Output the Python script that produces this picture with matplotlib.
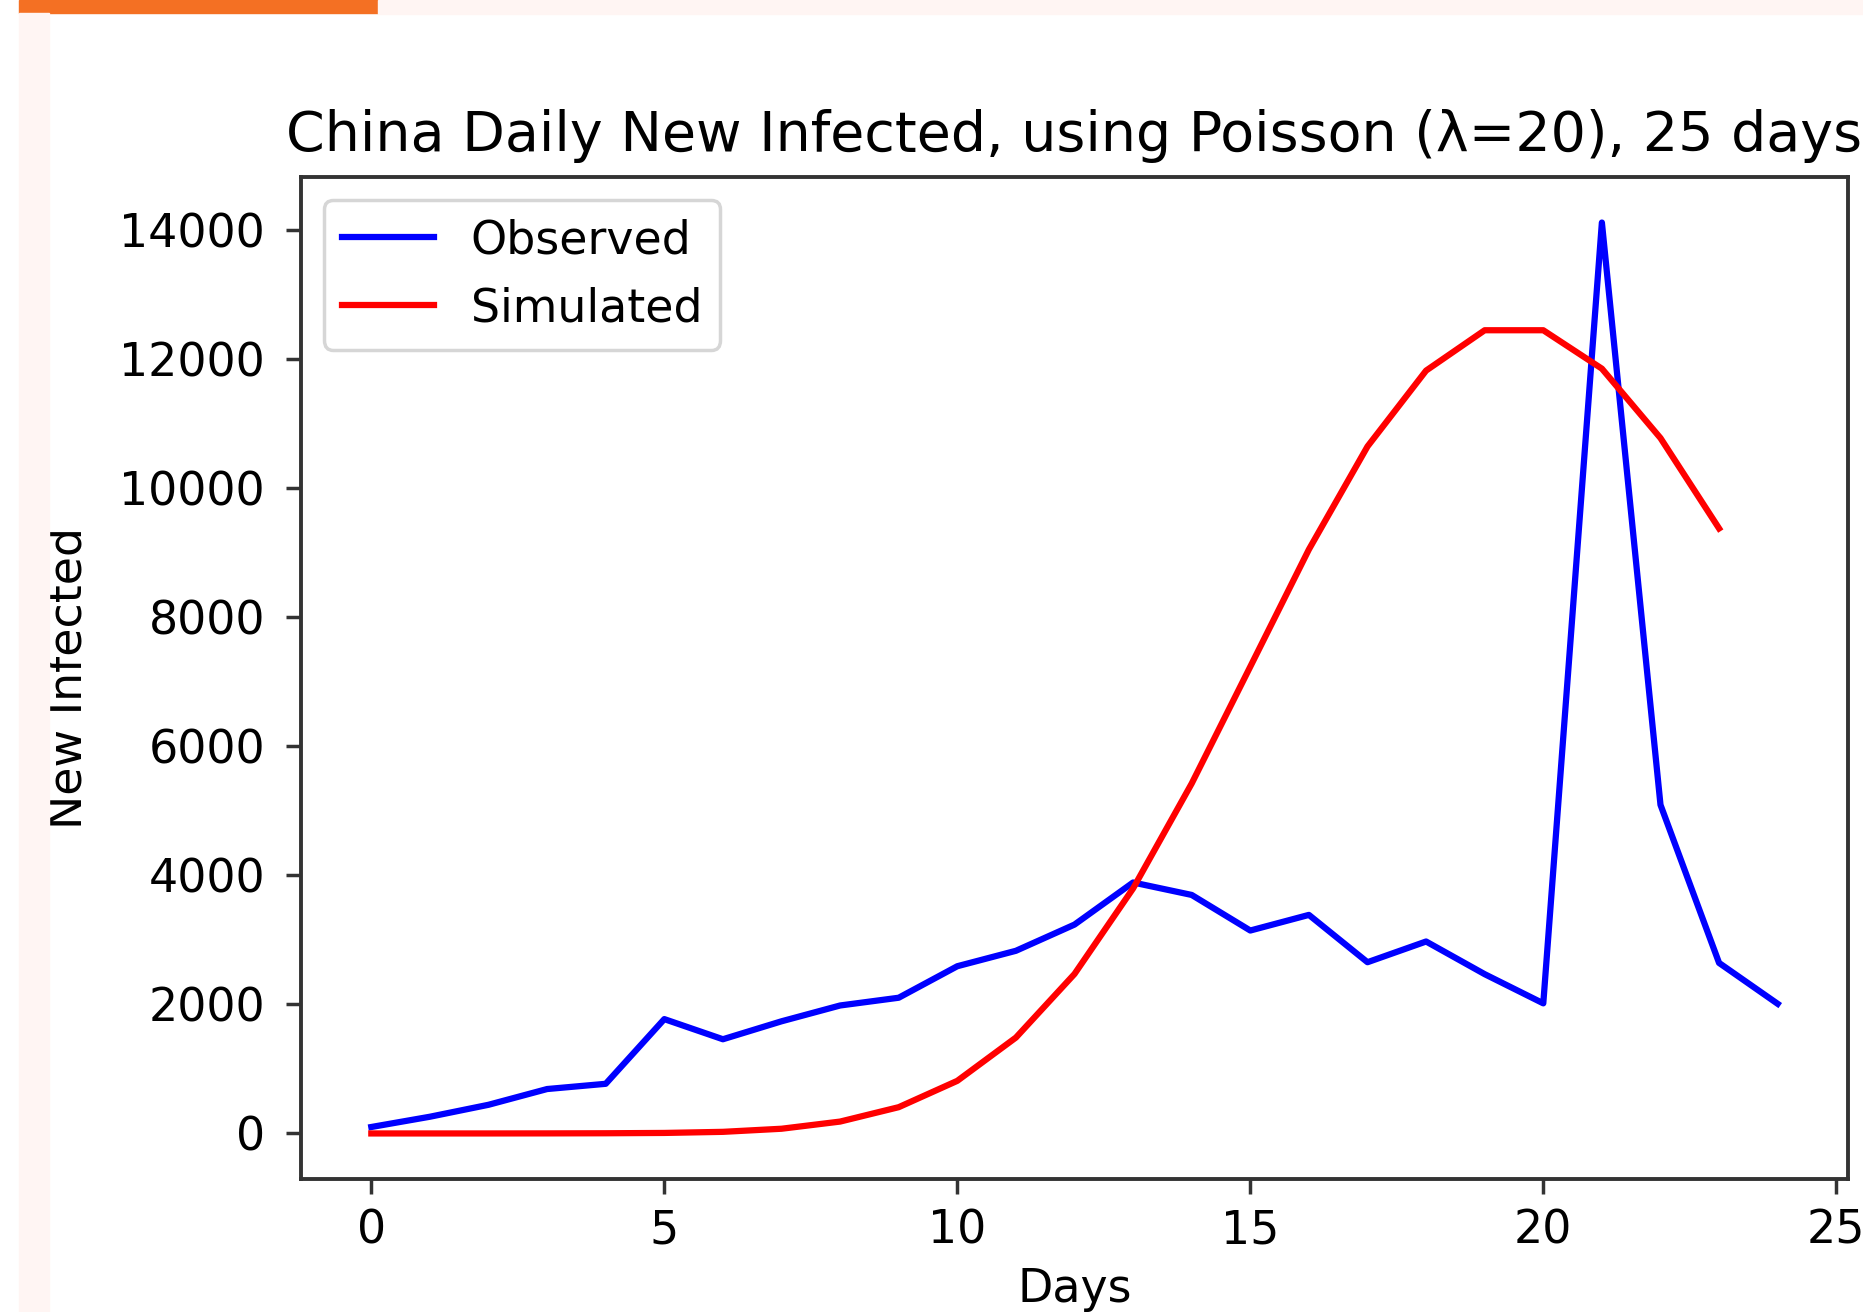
import matplotlib
matplotlib.use("Agg")
import matplotlib.pyplot as plt
from matplotlib.patches import Rectangle

# daily new cases
days_obs = list(range(25))
observed = [100, 259, 444, 688, 769, 1771, 1459, 1737, 1982, 2102,
            2590, 2829, 3235, 3887, 3694, 3143, 3385, 2652, 2973, 2467,
            2015, 14108, 5090, 2641, 2008]

days_sim = list(range(24))
simulated = [0, 0, 0, 1, 3, 8, 25, 73, 184, 407,
             815, 1485, 2470, 3795, 5420, 7230, 9045, 10640, 11815, 12440,
             12440, 11845, 10770, 9370]

W, H = 1863, 1312
fig = plt.figure(figsize=(W / 100, H / 100), dpi=100)

# page decoration around the chart image
fig.patches.append(Rectangle((19, H - 13), 359, 13, transform=None,
                             color='#f47023', zorder=0))
fig.patches.append(Rectangle((378, H - 14), W - 378, 14, transform=None,
                             color='#fff5f3', zorder=0))
fig.patches.append(Rectangle((19, 0), 30, H - 13, transform=None,
                             color='#fff5f3', zorder=0))

ax = fig.add_axes([301 / W, 1 - 1179 / H, (1848 - 301) / W, (1179 - 177) / H])

ax.plot(days_obs, observed, color='blue', lw=4.5, label='Observed')
ax.plot(days_sim, simulated, color='red', lw=4.5, label='Simulated')

fs = 33
ax.set_title('China Daily New Infected, using Poisson (λ=20), 25 days',
             fontsize=40, pad=19)
ax.set_xlabel('Days', fontsize=fs, labelpad=10)
ax.set_ylabel('New Infected', fontsize=fs, labelpad=20)
ax.set_xticks([0, 5, 10, 15, 20, 25])
ax.tick_params(labelsize=fs, length=11, width=2.5, color='#333333')
ax.tick_params(axis='y', pad=15)
ax.tick_params(axis='x', pad=10)
for sp in ax.spines.values():
    sp.set_linewidth(2.8)
    sp.set_color('#333333')

leg = ax.legend(fontsize=fs, loc='upper left', handlelength=2, borderpad=0.4)
leg.get_frame().set_linewidth(2.5)

fig.savefig('out.png', dpi=100)
